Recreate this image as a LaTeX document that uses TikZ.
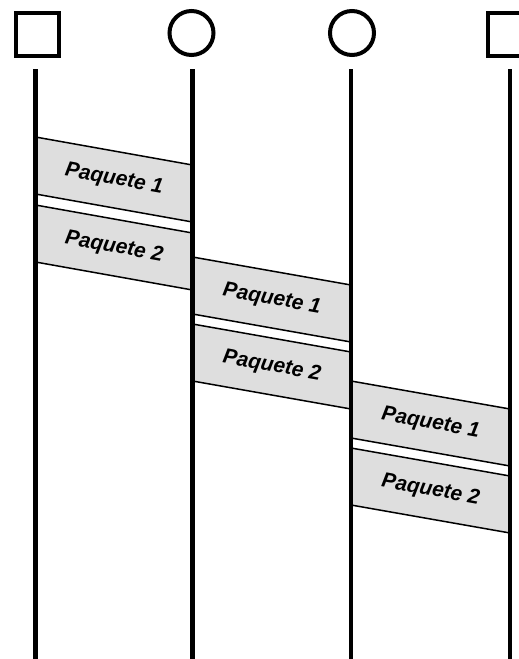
\documentclass[tikz,border=0pt]{standalone}
\usepackage{fontspec}
\setmainfont{Liberation Sans}
\tikzset{
  sqhead/.style={draw, line width=4pt, minimum size=43pt, inner sep=0pt, rectangle},
  cirhead/.style={draw, line width=4pt, minimum size=44pt, inner sep=0pt, circle},
  life/.style={line width=4.5pt},
  pkt/.style={fill=black!13},
  pktedge/.style={line width=1.5pt},
  lbl/.style={font=\fontsize{21}{21}\selectfont\bfseries\itshape, rotate=-10.1, inner sep=0pt}
}
\newcommand\pkband[5]{%
  % #1 xL, #2 xR, #3 top-left y, #4 label, #5 node name
  \pgfmathsetmacro\pkA{#3+28}
  \pgfmathsetmacro\pkB{#3+57}
  \pgfmathsetmacro\pkC{#3+85}
  \pgfmathsetmacro\pkX{(#1+#2)/2}
  \pgfmathsetmacro\pkY{#3+42.5}
  \fill[pkt] (#1,#3) -- (#2,\pkA) -- (#2,\pkC) -- (#1,\pkB) -- cycle;
  \draw[pktedge] (#1,#3) -- (#2,\pkA);
  \draw[pktedge] (#1,\pkB) -- (#2,\pkC);
  \node[lbl] (#5) at (\pkX,\pkY) {#4};
}
\begin{document}
\begin{tikzpicture}[x=1pt,y=-1pt]
  \useasboundingbox (0,0) rectangle (519,659);
  % packets
  \pkband{35.5}{192.5}{137}{Paquete 1}{p11}
  \pkband{35.5}{192.5}{205}{Paquete 2}{p21}
  \pkband{192.5}{351}{257}{Paquete 1}{p12}
  \pkband{192.5}{351}{324}{Paquete 2}{p22}
  \pkband{351}{510}{381}{Paquete 1}{p13}
  \pkband{351}{510}{448}{Paquete 2}{p23}
  % heads
  \node[sqhead] (h1) at (37.5,34) {};
  \node[cirhead] (h2) at (191.5,33) {};
  \node[cirhead] (h3) at (352,33) {};
  \node[sqhead] (h4) at (509.5,34) {};
  % lifelines
  \coordinate (t1) at (35.5,69);  \coordinate (b1) at (35.5,659);
  \coordinate (t2) at (192.5,69); \coordinate (b2) at (192.5,659);
  \coordinate (t3) at (351,69);   \coordinate (b3) at (351,659);
  \coordinate (t4) at (510,69);   \coordinate (b4) at (510,659);
  \draw[life] (t1) -- (b1);
  \draw[life] (t2) -- (b2);
  \draw[life] (t3) -- (b3);
  \draw[life] (t4) -- (b4);
\end{tikzpicture}
\end{document}
